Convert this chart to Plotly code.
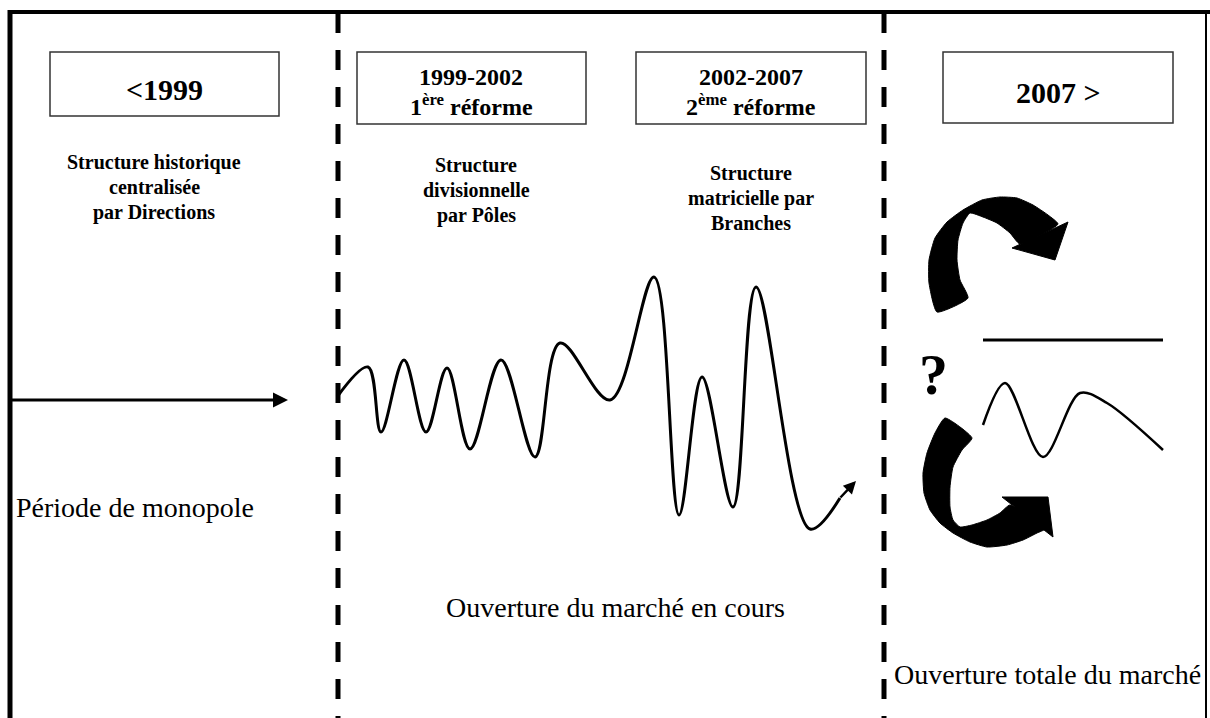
import plotly.graph_objects as go

# ---------------- data (pixel space 1210 x 718) ----------------
period_labels = ["&lt;1999", "1999-2002<br>1<sup>ère</sup> réforme",
                 "2002-2007<br>2<sup>ème</sup> réforme", "2007 &gt;"]
structure_labels = ["Structure historique<br>centralisée<br>par Directions",
                    "Structure<br>divisionnelle<br>par Pôles",
                    "Structure<br>matricielle par<br>Branches"]
phase_labels = ["Période de monopole", "Ouverture du marché en cours",
                "Ouverture totale du marché"]

# market-opening wave (extrema)
wave_x = [337, 368, 381, 404, 426, 447, 470, 501, 535, 560, 610, 654, 679, 702, 733, 756, 810, 840]
wave_y = [397, 367, 432, 360, 432, 368, 449, 360, 457, 343, 400, 277, 515, 377, 507, 287, 529, 498]

# small future wave (right panel)
fwave_x = [983, 1005, 1043, 1080, 1107, 1163]
fwave_y = [425, 383, 457, 393, 403, 450]

# curved arrows (outline)
top_shaft_x = [937, 929, 929, 935, 947, 963, 982, 1000, 1017, 1033, 1048, 1058,
               1020, 1010, 997, 983, 970, 963, 958, 957, 960, 968, 937]
top_shaft_y = [312, 283, 260, 238, 222, 210, 200, 197, 198, 205, 215, 224,
               244, 233, 223, 217, 213, 223, 240, 260, 280, 298, 312]
top_head_x = [1068, 1055, 1012, 1068]
top_head_y = [222, 260, 248, 222]

bot_shaft_x = [945, 935, 927, 923, 924, 930, 940, 953, 970, 987, 1007, 1023, 1037, 1045,
               1010, 1000, 987, 972, 960, 953, 950, 950, 953, 962, 972, 945]
bot_shaft_y = [418, 433, 453, 473, 493, 510, 523, 533, 542, 547, 545, 540, 533, 529,
               505, 513, 520, 525, 527, 520, 507, 487, 467, 450, 438, 418]
bot_head_x = [1002, 1048, 1053, 1002]
bot_head_y = [497, 497, 537, 497]

# ---------------- layout constants ----------------
W, H = 1210, 718
SERIF = "Liberation Serif"
boxes = [(50, 52, 279, 116), (357, 52, 586, 124), (636, 52, 866, 124), (943, 52, 1173, 123)]
# (centre x, y of first line, line step, font size)
box_text_pos = [(164, 89, 0, 30), (471, 77, 28, 24), (751, 77, 28, 24), (1058, 92, 0, 30)]
struct_pos = [(154, 162, 25), (476, 165, 25), (751, 173, 25)]
phase_pos = [(135, 507, 28), (615, 607, 28), (1047, 674, 28)]

fig = go.Figure()

# wave
fig.add_trace(go.Scatter(x=wave_x, y=wave_y, mode="lines",
                         line=dict(color="black", width=3, shape="spline", smoothing=1.0),
                         hoverinfo="skip", showlegend=False))
fig.add_trace(go.Scatter(x=fwave_x, y=fwave_y, mode="lines",
                         line=dict(color="black", width=2.5, shape="spline", smoothing=0.9),
                         hoverinfo="skip", showlegend=False))

# curved arrows
for sx, sy, hx, hy in [(top_shaft_x, top_shaft_y, top_head_x, top_head_y),
                       (bot_shaft_x, bot_shaft_y, bot_head_x, bot_head_y)]:
    fig.add_trace(go.Scatter(x=sx, y=sy, mode="lines", fill="toself", fillcolor="black",
                             line=dict(color="black", width=1, shape="spline", smoothing=0.5),
                             hoverinfo="skip", showlegend=False))
    fig.add_trace(go.Scatter(x=hx, y=hy, mode="lines", fill="toself", fillcolor="black",
                             line=dict(color="black", width=1),
                             hoverinfo="skip", showlegend=False))

shapes = []
# frame
shapes.append(dict(type="line", x0=8, y0=12, x1=W, y1=12, line=dict(color="black", width=4)))
shapes.append(dict(type="line", x0=10, y0=10, x1=10, y1=H, line=dict(color="black", width=5)))
shapes.append(dict(type="line", x0=1206, y0=12, x1=1206, y1=H, line=dict(color="black", width=2)))
# dashed separators
for xd in (338, 884):
    shapes.append(dict(type="line", x0=xd, y0=13, x1=xd, y1=H,
                       line=dict(color="black", width=5, dash="20px,17px")))
# boxes
for (x0, y0, x1, y1) in boxes:
    shapes.append(dict(type="rect", x0=x0, y0=y0, x1=x1, y1=y1,
                       line=dict(color="#333333", width=1.5), fillcolor="white"))
# horizontal line (stable future)
shapes.append(dict(type="line", x0=983, y0=340, x1=1163, y1=340, line=dict(color="black", width=3)))

annotations = []
bold = dict(family=SERIF, color="black", weight="bold")
for lab, (x, y, step, s) in zip(period_labels, box_text_pos):
    for i, line in enumerate(lab.split("<br>")):
        annotations.append(dict(x=x, y=y + i * step, text=line, showarrow=False,
                                font=dict(size=s, **bold)))
for lab, (x, y, step) in zip(structure_labels, struct_pos):
    for i, line in enumerate(lab.split("<br>")):
        annotations.append(dict(x=x, y=y + i * step, text=line, showarrow=False,
                                font=dict(size=20, **bold)))
for lab, (x, y, s) in zip(phase_labels, phase_pos):
    annotations.append(dict(x=x, y=y, text=lab, showarrow=False,
                            font=dict(family=SERIF, size=s, color="black")))
annotations.append(dict(x=933, y=374, text="?", showarrow=False,
                        font=dict(size=58, **bold)))
# straight monopoly arrow
annotations.append(dict(x=288, y=400, ax=10, ay=400, xref="x", yref="y", axref="x", ayref="y",
                        text="", showarrow=True, arrowhead=2, arrowsize=1, arrowwidth=3,
                        arrowcolor="black"))
# arrow tip at end of wave
annotations.append(dict(x=856, y=481, ax=839, ay=499, xref="x", yref="y", axref="x", ayref="y",
                        text="", showarrow=True, arrowhead=2, arrowsize=1, arrowwidth=2.5,
                        arrowcolor="black"))

fig.update_layout(
    width=W, height=H, margin=dict(l=0, r=0, t=0, b=0),
    paper_bgcolor="white", plot_bgcolor="white",
    xaxis=dict(range=[0, W], visible=False, fixedrange=True),
    yaxis=dict(range=[H, 0], visible=False, fixedrange=True),
    shapes=shapes, annotations=annotations, showlegend=False,
)

fig.write_html("out.html", config={"displayModeBar": False},
               post_script="document.body.style.margin='0';document.body.style.overflow='hidden';")
